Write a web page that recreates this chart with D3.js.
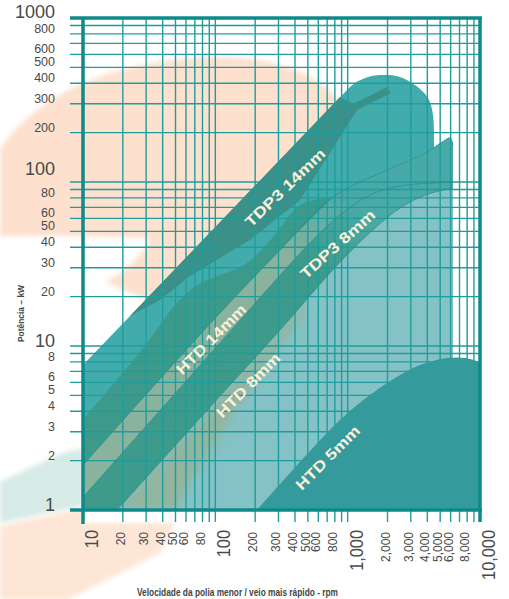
<!DOCTYPE html>
<html><head><meta charset="utf-8">
<script src="https://cdn.jsdelivr.net/npm/d3@7"></script>
<style>body{margin:0;background:#fff}svg{display:block}</style>
</head><body>
<svg id="chart" width="509" height="599"></svg>
<script>
// ---------- data ----------
const X_TICKS = [10,20,30,40,50,60,80,100,200,300,400,500,600,800,1000,2000,3000,4000,5000,6000,8000,10000];
const X_MAJOR = [10,100,1000,10000];
const Y_TICKS = [1,2,3,4,5,6,8,10,20,30,40,50,60,80,100,200,300,400,500,600,800,1000];
const Y_MAJOR = [1,10,100,1000];

// boundaries, [rpm, kW]
const TDP3_14_EDGE = [[10,7.66],[989,364]];
const TDP3_14_DOME = [[989,364],[1136,401],[1424,437],[1849,449],[2486,437],[3228,390],[4047,325],[4415,256],[4493,161]];
const TDP3_14_SHADE = [[10,3.54],[26.96,9.19],[64.4,21.95],[173.5,32.07],[272.8,46.2],[436.3,72.4],[775,81]];
const TDP3_14_LABEL_BAND = [[22.66,15.23],[875.4,329.9],[1097,298.9],[1983,379.6],[2126,348.9],[1177,274.8],[436.3,77.7],[182.8,44.3],[64.4,26.72],[38.2,19.08]];
const LINE1 = [[10,1.88],[86.5,13.06],[308,38.5],[775,81],[1983,118.4],[3978,152.4],[5163,175],[5934,185.5],[6252,168]];
const LINE2 = [[10,1.2],[54.1,5.55],[210,19.08],[519,42.5],[875,62.9],[1475,83.3],[2486,94.5],[6252,100]];
const LINE3 = [[18.07,1],[76.6,3.64],[308,12.52],[875,32.5],[1609,52.4],[2486,69.4],[3840,83.3],[6252,91.9]];
const HTD8_TINT = [[18.07,1],[76.6,3.64],[308,12.52],[519,19.08],[436,14.4],[140.8,4.07],[49.6,1]];
const HTD5 = [[206.5,1],[436,1.96],[875,3.54],[1475,5.02],[2279,6.38],[3521,7.66],[5632,8.45],[7704,8.45],[10000,7.99]];
const RIGHT_LIMIT = 6252;

const BAND_LABELS = ["TDP3  14mm","HTD 14mm","TDP3  8mm","HTD 8mm","HTD 5mm"];
const BAND_LABEL_AT = [[336,92.6],[92.7,11.03],[838,41.9],[176.6,5.78],[704,2.09]];

const X_TITLE = "Velocidade da polia menor / veio mais rápido - rpm";
const Y_TITLE = "Potência – kW";

// ---------- scales ----------
const svg = d3.select("#chart");
const x = d3.scaleLog().domain([10,10000]).range([83,480]);
const y = d3.scaleLog().domain([1,1000]).range([510,18]);

const lin = d3.line().x(d=>x(d[0])).y(d=>y(d[1])).curve(d3.curveLinear);
const cr = d3.line().x(d=>x(d[0])).y(d=>y(d[1])).curve(d3.curveCatmullRom.alpha(0.5));
function join(parts){ return parts.map((p,i)=> i===0 ? p : "L"+p.slice(1)).join("") + "Z"; }

const defs = svg.append("defs");
function grad(id, p1, p2, c1, c2){
  const g = defs.append("linearGradient").attr("id",id).attr("gradientUnits","userSpaceOnUse")
    .attr("x1",x(p1[0])).attr("y1",y(p1[1])).attr("x2",x(p2[0])).attr("y2",y(p2[1]));
  g.append("stop").attr("offset","0").attr("stop-color",c1);
  g.append("stop").attr("offset","1").attr("stop-color",c2);
}
grad("gA",[436,30],[1041,85],"#8ab39e","#48aaa8");
grad("gB",[735,25],[1700,60],"#3e9a8a","#4aaaa7");
defs.append("filter").attr("id","blur").attr("x","-20%").attr("y","-20%").attr("width","140%").attr("height","140%")
  .append("feGaussianBlur").attr("stdDeviation",4);
defs.append("filter").attr("id","soft").attr("x","-20%").attr("y","-20%").attr("width","140%").attr("height","140%")
  .append("feGaussianBlur").attr("stdDeviation",2.5);

// ---------- watermark-like background ----------
svg.append("path").attr("d","M0,150 C35,95 110,62 205,57 C290,55 342,82 358,135 L358,320 L180,320 C150,300 122,290 106,282 C126,270 144,255 150,238 C100,236 45,236 0,236 Z")
  .attr("fill","#fde0cd").attr("filter","url(#soft)");
svg.append("path").attr("d","M0,482 L60,454 L83,448 L83,506 L0,523 Z").attr("fill","#d6eae6").attr("filter","url(#soft)");
svg.append("path").attr("d","M0,526 L83,508 L83,523 L175,523 L160,553 L67,600 L0,600 Z").attr("fill","#fde6d6").attr("filter","url(#soft)");

// ---------- bands ----------
const pLight = join([cr(LINE3), lin([[RIGHT_LIMIT,91.9],[RIGHT_LIMIT,1]])]);
svg.append("path").attr("d",pLight).attr("fill","#84c2c6");
defs.append("clipPath").attr("id","clipLight").append("path").attr("d",pLight);
svg.append("path").attr("d",lin(HTD8_TINT)+"Z").attr("fill","#92b59f")
  .attr("filter","url(#blur)").attr("clip-path","url(#clipLight)");

const pB = join([cr(LINE2), lin([[RIGHT_LIMIT,100],[RIGHT_LIMIT,91.9]]), cr(LINE3.slice().reverse()), lin([[18.07,1],[10,1]])]);
svg.append("path").attr("d",pB).attr("fill","url(#gB)");

const pA = join([cr(LINE1), lin([[RIGHT_LIMIT,168],[RIGHT_LIMIT,100]]), cr(LINE2.slice().reverse())]);
svg.append("path").attr("d",pA).attr("fill","url(#gA)");

const back = [[4493,161]].concat(LINE1.filter(p=>p[0]<4493).reverse());
const pT = join([lin(TDP3_14_EDGE), cr(TDP3_14_DOME), cr(back)]);
svg.append("path").attr("d",pT).attr("fill","#42acad");
const shadeBack = LINE1.filter(p=>p[0]<=775).reverse();
svg.append("path").attr("d",join([cr(TDP3_14_SHADE), cr(shadeBack)])).attr("fill","#3d9a8a");
svg.append("path").attr("d",lin(TDP3_14_LABEL_BAND)+"Z").attr("fill","#3c9088");

// ---------- grid ----------
const gridColor = "#1e9d9d";
const grid = svg.append("g");
y.ticks().forEach(v=>{
  grid.append("line").attr("x1",70).attr("x2",x(10000)).attr("y1",y(v)).attr("y2",y(v))
    .attr("stroke",gridColor).attr("stroke-width",1.4);
});
x.ticks().forEach(v=>{
  grid.append("line").attr("x1",x(v)).attr("x2",x(v)).attr("y1",y(1000)).attr("y2",522)
    .attr("stroke",gridColor).attr("stroke-width",1.4);
});

// band boundary lines
[LINE1,LINE2,LINE3].forEach(L=>{
  svg.append("path").attr("d",cr(L)).attr("fill","none").attr("stroke","#2b8c83").attr("stroke-width",0.9);
});

// HTD 5mm solid region
svg.append("path").attr("d",join([cr(HTD5), lin([[10000,7.99],[10000,1]])])).attr("fill","#349a9b");

// borders on top
const border = "#0f8a8a";
svg.append("line").attr("x1",70).attr("x2",x(10000)+2).attr("y1",y(1000)).attr("y2",y(1000)).attr("stroke",border).attr("stroke-width",3.5);
svg.append("line").attr("x1",70).attr("x2",x(10000)+2).attr("y1",y(1)).attr("y2",y(1)).attr("stroke",border).attr("stroke-width",3.5);
svg.append("line").attr("x1",x(10)).attr("x2",x(10)).attr("y1",y(1000)).attr("y2",524).attr("stroke",border).attr("stroke-width",3.5);
svg.append("line").attr("x1",x(10000)).attr("x2",x(10000)).attr("y1",y(1000)).attr("y2",522).attr("stroke",border).attr("stroke-width",3.5);

// ---------- band labels ----------
const labelAngle = [-44,-45,-42,-45,-45];
const labelLen = [105,92,95,84,84];
BAND_LABELS.forEach((t,i)=>{
  const [r,k] = BAND_LABEL_AT[i];
  svg.append("text").attr("transform",`translate(${x(r)},${y(k)}) rotate(${labelAngle[i]})`)
    .attr("text-anchor","middle").attr("dominant-baseline","central")
    .attr("font-family","Liberation Sans, Arial, sans-serif").attr("font-weight","bold").attr("font-size",15)
    .attr("fill","#fbf0da").attr("textLength",labelLen[i]).attr("lengthAdjust","spacingAndGlyphs").text(t);
});

// ---------- axis labels ----------
const fmt = v => v>=1000 ? d3.format(",")(v) : String(v);
const font = "Liberation Sans, Arial, sans-serif";
Y_TICKS.forEach(v=>{
  const major = Y_MAJOR.includes(v);
  const off = v===100 ? 13 : (v===1000 ? 6 : 5);
  svg.append("text").attr("x",55).attr("y",y(v) - off)
    .attr("text-anchor","end").attr("dominant-baseline","central")
    .attr("font-family",font).attr("font-size",major?18:12.5).attr("fill","#4a4a4a").text(String(v));
});
X_TICKS.forEach(v=>{
  const major = X_MAJOR.includes(v);
  const bx = x(v) + (major?15:2);
  svg.append("text").attr("transform",`translate(${bx},${major?530:532}) rotate(-90) scale(${major?0.86:1},1)`)
    .attr("text-anchor","end").attr("font-family",font).attr("font-size",major?19:12)
    .attr("fill","#4a4a4a").text(fmt(v));
});
svg.append("text").attr("x",137).attr("y",596).attr("font-family",font).attr("font-weight","bold")
  .attr("font-size",10.5).attr("fill","#454545").attr("textLength",201).attr("lengthAdjust","spacingAndGlyphs").text(X_TITLE);
svg.append("text").attr("transform","translate(24,342) rotate(-90)").attr("font-family",font).attr("font-weight","bold")
  .attr("font-size",9.5).attr("fill","#454545").attr("textLength",57).attr("lengthAdjust","spacingAndGlyphs").text(Y_TITLE);
</script>
</body></html>
